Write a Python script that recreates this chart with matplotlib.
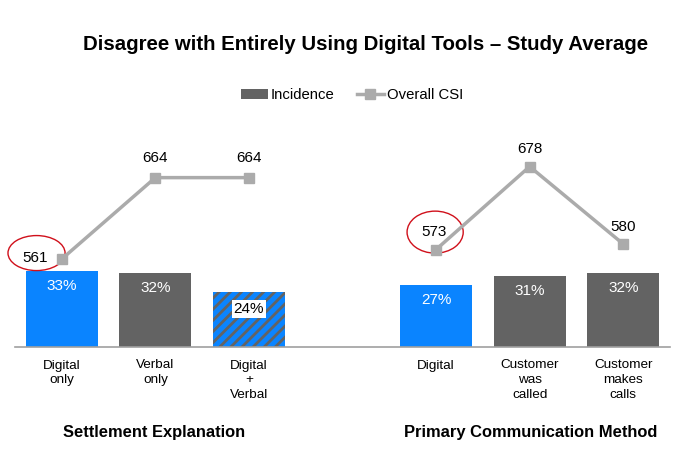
import numpy as np
import matplotlib.pyplot as plt
from matplotlib.patches import Ellipse, Patch
from matplotlib.lines import Line2D

plt.rcParams['font.family'] = ['Liberation Sans', 'DejaVu Sans']
plt.rcParams['hatch.linewidth'] = 2.0

# --- data ---
categories = ["Digital\nonly", "Verbal\nonly", "Digital\n+\nVerbal",
              "Digital", "Customer\nwas\ncalled", "Customer\nmakes\ncalls"]
slots = [0, 1, 2, 4, 5, 6]
incidence = [33, 32, 24, 27, 31, 32]
csi = [561, 664, 664, 573, 678, 580]
group_titles = ["Settlement Explanation", "Primary Communication Method"]

BLUE = "#0A84FF"
GREY = "#636363"
LINE = "#ABABAB"
bar_colors = [BLUE, GREY, BLUE, BLUE, GREY, GREY]

fig = plt.figure(figsize=(6.92, 4.57), dpi=100)
W, H = 692, 457
ax = fig.add_axes([15 / W, 1 - 347 / H, 655 / W, 237 / H])
ax.set_xlim(-0.5, 6.5)
ax.set_ylim(0, 237 / 2.3)

bars = ax.bar(slots, incidence, width=0.77, color=bar_colors, linewidth=0)
bars[2].set_hatch("///")
bars[2].set_edgecolor(GREY)
bars[2].set_linewidth(0)

for i, (b, v) in enumerate(zip(bars, incidence)):
    if i == 2:
        ax.text(b.get_x() + b.get_width() / 2, v - 7.5, f"{v}%", ha="center", va="center",
                fontsize=11, color="black",
                bbox=dict(facecolor="white", edgecolor="none", pad=1.5))
    else:
        ax.text(b.get_x() + b.get_width() / 2, v - 6.5, f"{v}%", ha="center", va="center",
                fontsize=11, color="white")

for s in ["top", "right", "left"]:
    ax.spines[s].set_visible(False)
ax.spines["bottom"].set_color("#A0A0A0")
ax.spines["bottom"].set_linewidth(1.2)
ax.set_yticks([])
ax.set_xticks(slots)
ax.set_xticklabels(categories, fontsize=9.7, linespacing=1.3)
ax.tick_params(axis="x", length=0, pad=9)

# secondary axis for CSI
ax2 = ax.twinx()
ax2.set_ylim(449.6, 449.6 + 237 / 0.79)
ax2.axis("off")
csi_x = [0, 1, 2, np.nan, 4, 5, 6]
csi_y = csi[:3] + [np.nan] + csi[3:]
ax2.plot(csi_x, csi_y, color=LINE, linewidth=2.5, marker="s", markersize=6.5)

offsets = [(-0.28, 1), (0, 25), (0, 25), (-0.02, 22), (0, 22), (0, 22)]
for x, v, (dx, dy) in zip(slots, csi, offsets):
    ax2.text(x + dx, v + dy, str(v), ha="center", va="center", fontsize=11)

for x, v, w, h, dy in [(-0.27, 561, 0.61, 35 / 0.79, 7.5), (3.99, 573, 0.6, 42 / 0.79, 22)]:
    ax2.add_patch(Ellipse((x, v + dy), w, h, fill=False, edgecolor="#D0101B", linewidth=1.0,
                          clip_on=False))

# legend
handles = [Patch(facecolor=GREY, label="Incidence"),
           Line2D([], [], color=LINE, linewidth=2.5, marker="s", markersize=6.5, label="Overall CSI")]
fig.legend(handles=handles, loc="center", bbox_to_anchor=(352 / W, 1 - 95 / H), ncol=2,
           frameon=False, fontsize=10.7, handlelength=1.8, handletextpad=0.2, columnspacing=1.5)

fig.text(366 / W, 1 - 44 / H, "Disagree with Entirely Using Digital Tools \u2013 Study Average",
         ha="center", va="center", fontsize=14.7, fontweight="bold")
fig.text(154 / W, 1 - 433 / H, group_titles[0], ha="center", va="center", fontsize=11.9,
         fontweight="bold")
fig.text(531 / W, 1 - 433 / H, group_titles[1], ha="center", va="center", fontsize=11.9,
         fontweight="bold")

fig.savefig("out.png", dpi=100)
